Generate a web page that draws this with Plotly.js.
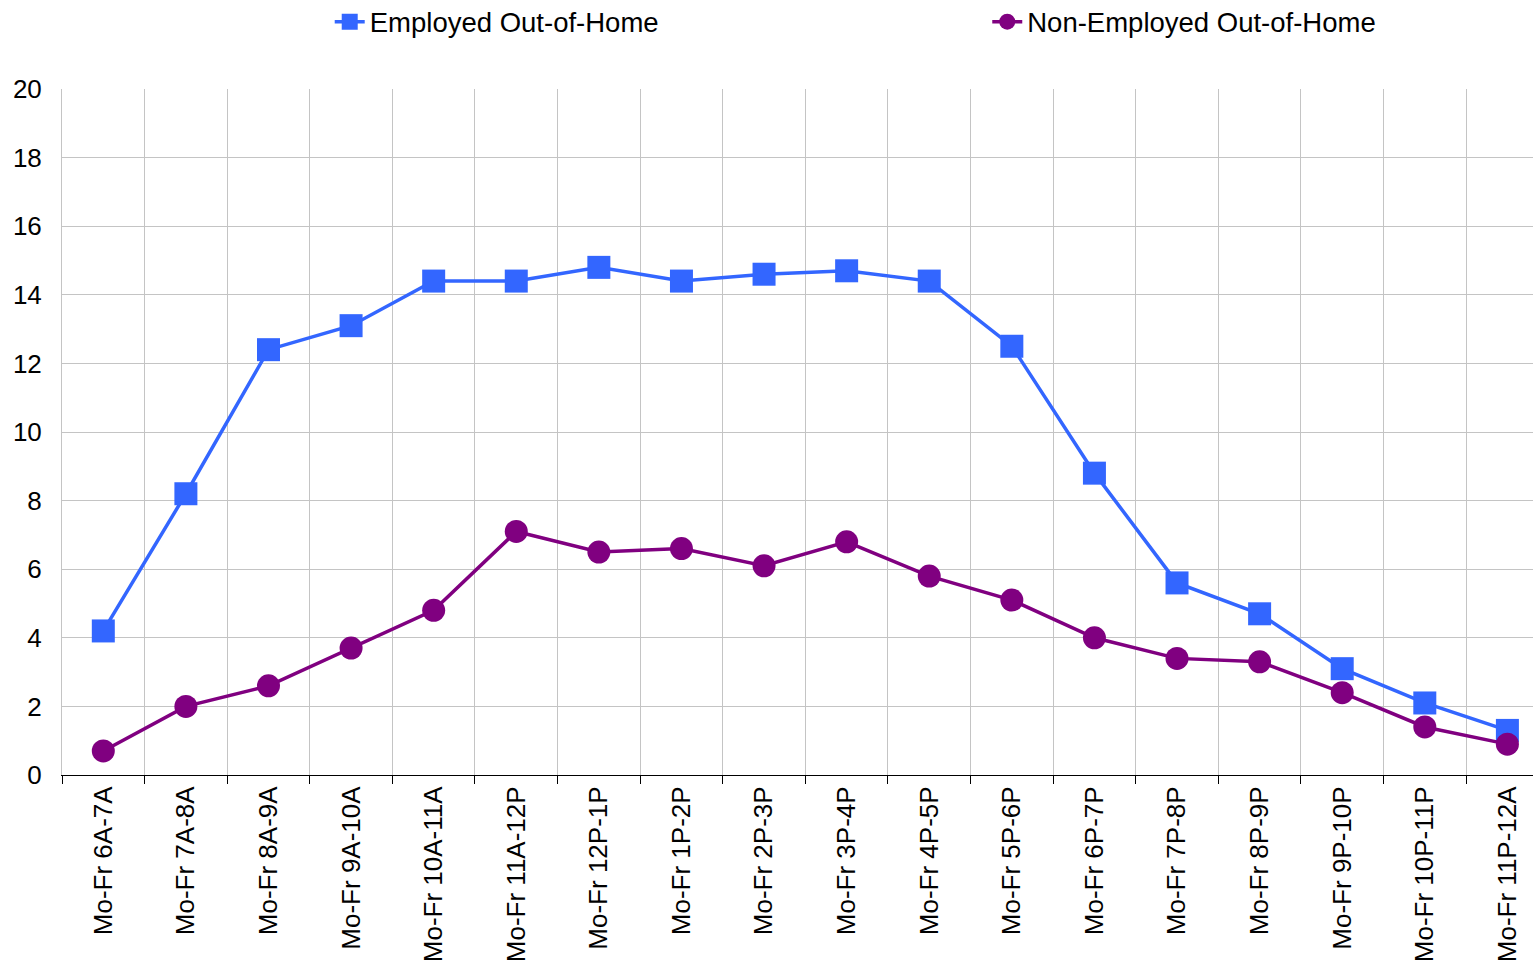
<!DOCTYPE html>
<html>
<head>
<meta charset="utf-8">
<script src="https://cdn.plot.ly/plotly-3.0.1.min.js"></script>
<style>html,body{margin:0;padding:0;background:#fff;}#chart{width:1533px;height:968px;}</style>
</head>
<body>
<div id="chart"></div>
<script>
const categories = ["Mo-Fr 6A-7A","Mo-Fr 7A-8A","Mo-Fr 8A-9A","Mo-Fr 9A-10A","Mo-Fr 10A-11A","Mo-Fr 11A-12P","Mo-Fr 12P-1P","Mo-Fr 1P-2P","Mo-Fr 2P-3P","Mo-Fr 3P-4P","Mo-Fr 4P-5P","Mo-Fr 5P-6P","Mo-Fr 6P-7P","Mo-Fr 7P-8P","Mo-Fr 8P-9P","Mo-Fr 9P-10P","Mo-Fr 10P-11P","Mo-Fr 11P-12A"];
const employed = [4.2,8.2,12.4,13.1,14.4,14.4,14.8,14.4,14.6,14.7,14.4,12.5,8.8,5.6,4.7,3.1,2.1,1.3];
const nonEmployed = [0.7,2.0,2.6,3.7,4.8,7.1,6.5,6.6,6.1,6.8,5.8,5.1,4.0,3.4,3.3,2.4,1.4,0.9];
const yTicks = [0,2,4,6,8,10,12,14,16,18,20];

const font = {family: "Liberation Sans, Arial, sans-serif", size: 26, color: "#000"};
const legendFont = {family: "Liberation Sans, Arial, sans-serif", size: 27.5, color: "#000"};

const traces = [
  {x: categories, y: employed, name: "Employed Out-of-Home", type: "scatter", mode: "lines+markers",
   line: {color: "#3366FF", width: 3.5}, marker: {symbol: "square", size: 23, color: "#3366FF"}, legend: "legend", cliponaxis: false},
  {x: categories, y: nonEmployed, name: "Non-Employed Out-of-Home", type: "scatter", mode: "lines+markers",
   line: {color: "#800080", width: 3.5}, marker: {symbol: "circle", size: 23, color: "#800080"}, legend: "legend2", cliponaxis: false}
];

const layout = {
  width: 1533, height: 968,
  margin: {l: 62, r: 0, t: 89, b: 193, autoexpand: false},
  paper_bgcolor: "#fff", plot_bgcolor: "#fff",
  font: font,
  showlegend: true,
  legend: {x: 0.182, y: 1.098, xanchor: "left", yanchor: "middle", orientation: "h", font: legendFont, bgcolor: "rgba(0,0,0,0)"},
  legend2: {x: 0.629, y: 1.098, xanchor: "left", yanchor: "middle", orientation: "h", font: legendFont, bgcolor: "rgba(0,0,0,0)"},
  xaxis: {
    type: "category", tickson: "boundaries", ticks: "outside", ticklen: 8, tickcolor: "#000", tickwidth: 1,
    showgrid: true, gridcolor: "#c4c4c4", gridwidth: 1,
    showline: true, linecolor: "#000", linewidth: 1,
    tickangle: -90, tickfont: font, range: [-0.5, 17.31], zeroline: false, automargin: false
  },
  yaxis: {
    range: [0, 20], tickvals: yTicks, ticktext: yTicks.map(String), tickfont: font,
    showgrid: true, gridcolor: "#c4c4c4", gridwidth: 1,
    showline: true, linecolor: "#c4c4c4", linewidth: 1, mirror: false,
    zeroline: false, ticks: "", ticklabelstandoff: 14, automargin: false
  }
};

Plotly.newPlot("chart", traces, layout, {displayModeBar: false, staticPlot: true});
</script>
</body>
</html>
